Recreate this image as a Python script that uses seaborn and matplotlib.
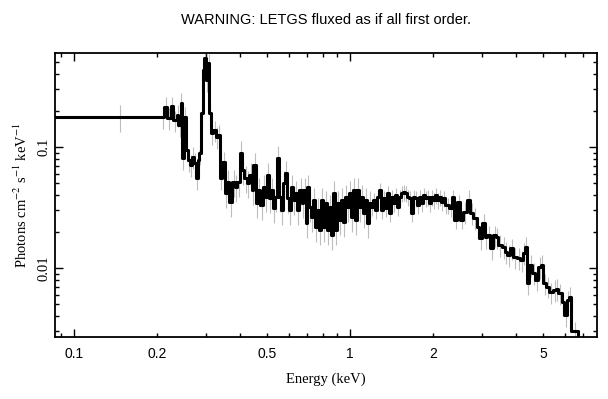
import numpy as np
import pandas as pd
import seaborn as sns
import matplotlib.pyplot as plt
from matplotlib.ticker import LogLocator, FixedLocator, FixedFormatter, NullFormatter

# lower bin edges (keV) and flux per bin (photons cm^-2 s^-1 keV^-1)
edge_lo = [
    0.085, 0.2084, 0.212, 0.217, 0.2246, 0.2285, 0.236, 0.238, 0.244, 0.246,
    0.2505, 0.2546, 0.2588, 0.2632, 0.268, 0.272, 0.2767, 0.2813, 0.2837, 0.2884,
    0.2934, 0.296, 0.301, 0.306, 0.3084, 0.3135, 0.3189, 0.327, 0.3325, 0.338,
    0.3436, 0.3525, 0.3584, 0.3645, 0.3736, 0.3833, 0.3897, 0.3995, 0.406, 0.413,
    0.4235, 0.4307, 0.4415, 0.4452, 0.4565, 0.4642, 0.472, 0.484, 0.492, 0.5004,
    0.5088, 0.5174, 0.526, 0.535, 0.544, 0.553, 0.5623, 0.5718, 0.5814, 0.591,
    0.601, 0.611, 0.6215, 0.632, 0.6427, 0.6535, 0.670, 0.676, 0.693, 0.699,
    0.7105, 0.7225, 0.7345, 0.747, 0.7595, 0.772, 0.785, 0.798, 0.8115, 0.8254,
    0.839, 0.8533, 0.8677, 0.882, 0.897, 0.912, 0.9276, 0.943, 0.959, 0.975,
    0.9917, 1.0084, 1.0254, 1.0426, 1.060, 1.078, 1.096, 1.1145, 1.133, 1.152,
    1.172, 1.191, 1.211, 1.232, 1.2525, 1.2737, 1.295, 1.317, 1.339, 1.361,
    1.384, 1.408, 1.4315, 1.4555, 1.480, 1.505, 1.530, 1.556, 1.582, 1.609,
    1.636, 1.6634, 1.6915, 1.720, 1.7486, 1.778, 1.808, 1.838, 1.869, 1.901,
    1.933, 1.965, 1.998, 2.032, 2.066, 2.101, 2.136, 2.173, 2.209, 2.246,
    2.284, 2.342, 2.381, 2.442, 2.503, 2.566, 2.655, 2.722, 2.790, 2.885,
    2.934, 3.008, 3.084, 3.136, 3.215, 3.297, 3.381, 3.437, 3.553, 3.644,
    3.705, 3.799, 3.896, 4.029, 4.130, 4.235, 4.305, 4.378, 4.452, 4.565,
    4.681, 4.799, 4.920, 5.003, 5.129, 5.260, 5.438, 5.577, 5.670, 5.862,
    5.962, 6.113, 6.216, 6.320, 6.70,
]
edge_last = 7.5

flux = [
    0.177, 0.177, 0.214, 0.174, 0.218, 0.167, 0.184, 0.152, 0.231, 0.0811,
    0.177, 0.0944, 0.0781, 0.0710, 0.0827, 0.0738, 0.0554, 0.0781, 0.0892, 0.191,
    0.433, 0.544, 0.358, 0.494, 0.191, 0.131, 0.138, 0.121, 0.126, 0.0554,
    0.0752, 0.0417, 0.0514, 0.0351, 0.0514, 0.0467, 0.0514, 0.0892, 0.0645, 0.0554,
    0.0504, 0.0587, 0.0441, 0.0710, 0.0344, 0.0441, 0.0332, 0.0467, 0.0386, 0.0587,
    0.0379, 0.0441, 0.0313, 0.0386, 0.0811, 0.0386, 0.0301, 0.0504, 0.0610, 0.0379,
    0.0301, 0.0467, 0.0365, 0.0417, 0.0301, 0.0441, 0.0344, 0.0441, 0.0235, 0.0467,
    0.0319, 0.0264, 0.0365, 0.0218, 0.0301, 0.0206, 0.0365, 0.0218, 0.0344, 0.0206,
    0.0319, 0.0187, 0.0417, 0.0206, 0.0344, 0.0249, 0.0365, 0.0240, 0.0386, 0.0319,
    0.0417, 0.0264, 0.0441, 0.0249, 0.0441, 0.0319, 0.0386, 0.0285, 0.0365, 0.0235,
    0.0344, 0.0319, 0.0365, 0.0301, 0.0386, 0.0441, 0.0301, 0.0379, 0.0313, 0.0417,
    0.0285, 0.0386, 0.0344, 0.0401, 0.0319, 0.0386, 0.0417, 0.0425, 0.0417, 0.0386,
    0.0379, 0.0285, 0.0386, 0.0379, 0.0332, 0.0386, 0.0344, 0.0401, 0.0379, 0.0386,
    0.0344, 0.0386, 0.0365, 0.0401, 0.0365, 0.0386, 0.0351, 0.0379, 0.0332, 0.0332,
    0.0313, 0.0386, 0.0249, 0.0351, 0.0249, 0.0290, 0.0365, 0.0285, 0.0259, 0.0218,
    0.0177, 0.0235, 0.0180, 0.0187, 0.0146, 0.0187, 0.0180, 0.0155, 0.0149, 0.0136,
    0.0128, 0.0146, 0.0123, 0.0121, 0.0116, 0.0133, 0.0149, 0.0075, 0.0106, 0.0091,
    0.0080, 0.0102, 0.0106, 0.0075, 0.0070, 0.0063, 0.0066, 0.0067, 0.0062, 0.0052,
    0.0041, 0.0054, 0.0058, 0.0030, 0.0010,
]

# fractional 1-sigma errors, estimated per energy band
err_band_hi = [0.21, 0.35, 1.2, 2.6, 8.0]
err_band_frac = [0.25, 0.2, 0.25, 0.15, 0.2]

sns.set_style("ticks")
plt.rcParams["font.family"] = ["Liberation Serif", "DejaVu Serif"]
plt.rcParams["mathtext.fontset"] = "stix"
for k in ["text.color", "axes.labelcolor", "xtick.color", "ytick.color", "axes.edgecolor"]:
    plt.rcParams[k] = "black"

edges = np.array(edge_lo + [edge_last])
fl = np.array(flux)
centers = 0.5 * (edges[:-1] + edges[1:])
frac = np.array([err_band_frac[np.searchsorted(err_band_hi, c)] for c in centers])
err = fl * frac

df = pd.DataFrame({"energy": edges, "flux": np.append(fl, fl[-1])})

fig = plt.figure(figsize=(6.08, 3.99), dpi=100)
ax = fig.add_axes([0.0905, 0.1554, 0.8915, 0.7116])

ax.errorbar(centers[:-1], fl[:-1], yerr=err[:-1], fmt="none",
            ecolor="#bdbdbd", elinewidth=0.8, zorder=1)
sns.lineplot(data=df, x="energy", y="flux", drawstyle="steps-post",
             estimator=None, sort=False, color="black", linewidth=2.2,
             ax=ax, zorder=2)

ax.set_xscale("log")
ax.set_yscale("log")
ax.set_xlim(0.0853, 7.85)
ax.set_ylim(0.00269, 0.598)

# x ticks: decades long, others short, labels on 0.1 0.2 0.5 1 2 5
ax.xaxis.set_major_locator(FixedLocator([0.1, 1.0]))
ax.xaxis.set_minor_locator(LogLocator(base=10, subs=np.arange(2, 10)))
ax.xaxis.set_major_formatter(NullFormatter())
ax.xaxis.set_minor_formatter(NullFormatter())
for v, s in zip([0.1, 0.2, 0.5, 1, 2, 5], ["0.1", "0.2", "0.5", "1", "2", "5"]):
    ax.text(v, -0.035, s, transform=ax.get_xaxis_transform(), ha="center",
            va="top", fontsize=10, family=["Liberation Sans", "DejaVu Sans"])

ax.yaxis.set_major_locator(FixedLocator([0.01, 0.1]))
ax.yaxis.set_major_formatter(FixedFormatter(["0.01", "0.1"]))
ax.yaxis.set_minor_locator(LogLocator(base=10, subs=np.arange(2, 10)))
ax.yaxis.set_minor_formatter(NullFormatter())
for lab in ax.get_yticklabels():
    lab.set_rotation(90)
    lab.set_va("center")
ax.tick_params(axis="y", which="major", labelsize=10.5, pad=3)

ax.tick_params(which="both", direction="in", top=True, right=True,
               color="black", width=1.0)
ax.tick_params(which="major", length=6)
ax.tick_params(which="minor", length=3)
for sp in ax.spines.values():
    sp.set_linewidth(1.3)
    sp.set_color("black")

ax.set_xlabel("Energy (keV)", fontsize=10.5, labelpad=22)
ax.set_ylabel(r"Photons cm$^{-2}$ s$^{-1}$ keV$^{-1}$", fontsize=10.5, labelpad=6)
ax.set_title("WARNING: LETGS fluxed as if all first order.", fontsize=10.5,
             pad=21, family=["Liberation Sans", "DejaVu Sans"])

fig.savefig("out.png", dpi=100)
